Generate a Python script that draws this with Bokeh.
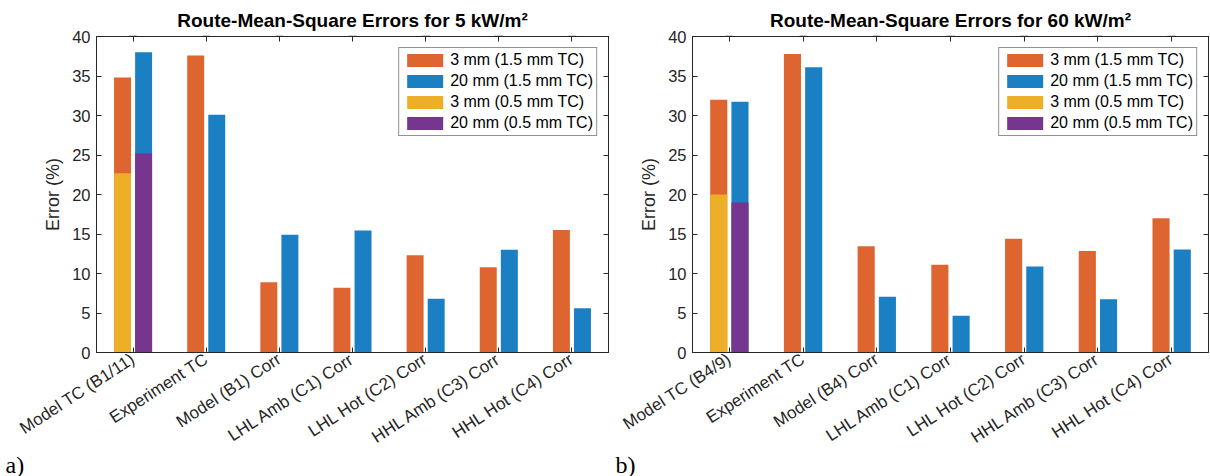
import math
from bokeh.plotting import figure
from bokeh.models import (FactorRange, Range1d, LinearAxis, CategoricalAxis,
                          FixedTicker, Title)
from bokeh.transform import dodge
from bokeh.layouts import row
from bokeh.embed import file_html
from bokeh.resources import INLINE

# ---------------- data ----------------
cats_a = ["Model TC (B1/11)", "Experiment TC", "Model (B1) Corr", "LHL Amb (C1) Corr",
          "LHL Hot (C2) Corr", "HHL Amb (C3) Corr", "HHL Hot (C4) Corr"]
mm3_15_a = [34.8, 37.6, 8.9, 8.2, 12.3, 10.8, 15.5]
mm20_15_a = [38.0, 30.1, 14.9, 15.45, 6.8, 13.0, 5.6]
mm3_05_a = [22.7]
mm20_05_a = [25.2]

cats_b = ["Model TC (B4/9)", "Experiment TC", "Model (B4) Corr", "LHL Amb (C1) Corr",
          "LHL Hot (C2) Corr", "HHL Amb (C3) Corr", "HHL Hot (C4) Corr"]
mm3_15_b = [32.0, 37.8, 13.45, 11.1, 14.4, 12.85, 17.0]
mm20_15_b = [31.75, 36.1, 7.05, 4.65, 10.9, 6.75, 13.05]
mm3_05_b = [20.0]
mm20_05_b = [19.0]

series_labels = ["3 mm (1.5 mm TC)", "20 mm (1.5 mm TC)", "3 mm (0.5 mm TC)", "20 mm (0.5 mm TC)"]
y_ticks = [0, 5, 10, 15, 20, 25, 30, 35, 40]
titles = ["Route-Mean-Square Errors for 5 kW/m\u00b2", "Route-Mean-Square Errors for 60 kW/m\u00b2"]
panel_tags = ["a)", "b)"]

colors = ["#DE6430", "#1B7FC3", "#EDAE28", "#76358F"]
AX = "#262626"
FONT = "Liberation Sans"


def make_plot(cats, s1, s2, s3, s4, title, tag, border_left, frame_w):
    p = figure(x_range=FactorRange(*cats), y_range=Range1d(0, 40),
               frame_width=frame_w, frame_height=316,
               min_border_left=border_left, min_border_right=2,
               min_border_top=36, min_border_bottom=124,
               output_backend="svg", toolbar_location=None)
    p.background_fill_color = "white"
    p.border_fill_color = "white"
    p.grid.visible = False
    p.outline_line_color = AX
    p.outline_line_alpha = 1.0

    off = 0.144
    w = 0.232
    p.vbar(x=dodge("x", -off, range=p.x_range), top="top", width=w,
           source=dict(x=cats, top=s1), fill_color=colors[0], line_color=None,
           legend_label=series_labels[0])
    p.vbar(x=dodge("x", off, range=p.x_range), top="top", width=w,
           source=dict(x=cats, top=s2), fill_color=colors[1], line_color=None,
           legend_label=series_labels[1])
    p.vbar(x=dodge("x", -off, range=p.x_range), top="top", width=w,
           source=dict(x=cats[:len(s3)], top=s3), fill_color=colors[2], line_color=None,
           legend_label=series_labels[2])
    p.vbar(x=dodge("x", off, range=p.x_range), top="top", width=w,
           source=dict(x=cats[:len(s4)], top=s4), fill_color=colors[3], line_color=None,
           legend_label=series_labels[3])

    # y axis
    ya = p.yaxis[0]
    ya.ticker = FixedTicker(ticks=y_ticks)
    ya.axis_label = "Error (%)"
    ya.axis_label_text_font = FONT
    ya.axis_label_text_font_size = "18px"
    ya.axis_label_text_font_style = "normal"
    ya.axis_label_text_color = AX
    ya.axis_label_standoff = 6
    ya.major_label_text_font = FONT
    ya.major_label_text_font_size = "16.5px"
    ya.major_label_text_color = AX
    ya.major_label_standoff = 6
    ya.major_tick_in = 5
    ya.major_tick_out = 0
    ya.minor_tick_in = 0
    ya.minor_tick_out = 0
    ya.axis_line_color = AX
    ya.major_tick_line_color = AX

    # x axis
    xa = p.xaxis[0]
    xa.major_label_orientation = math.radians(33)
    xa.major_label_text_font = FONT
    xa.major_label_text_font_size = "17px"
    xa.major_label_text_color = AX
    xa.major_label_standoff = 5
    xa.major_tick_in = 5
    xa.major_tick_out = 0
    xa.axis_line_color = AX
    xa.major_tick_line_color = AX

    # box axes (ticks only, labels blanked)
    ra = LinearAxis(ticker=FixedTicker(ticks=y_ticks),
                    major_label_overrides={t: "" for t in y_ticks},
                    major_label_text_font_size="1px",
                    major_label_standoff=0, major_tick_in=5, major_tick_out=0,
                    minor_tick_in=0, minor_tick_out=0, axis_line_color=AX,
                    major_tick_line_color=AX)
    p.add_layout(ra, "right")
    ta = CategoricalAxis(major_label_overrides={c: "" for c in cats},
                         major_label_text_font_size="1px", major_label_standoff=0,
                         major_tick_in=5, major_tick_out=0, axis_line_color=AX,
                         major_tick_line_color=AX)
    p.add_layout(ta, "above")

    # title
    p.add_layout(Title(text=title, align="center", text_font=FONT, text_font_size="19px",
                       text_font_style="bold", text_color="black", standoff=4), "above")

    # panel tag
    p.add_layout(Title(text=tag, align="left", offset=-(border_left - 5), text_font="Liberation Serif",
                       text_font_size="24px", text_font_style="normal", text_color="black",
                       standoff=-16), "below")

    # legend
    lg = p.legend[0]
    lg.location = "top_right"
    lg.margin = 11
    lg.padding = 3
    lg.spacing = 3
    lg.glyph_width = 45
    lg.glyph_height = 16
    lg.label_height = 16
    lg.label_standoff = 3
    lg.label_text_font = FONT
    lg.label_text_font_size = "16px"
    lg.label_text_color = "black"
    lg.border_line_color = AX
    lg.border_line_width = 1
    lg.background_fill_color = "white"
    lg.background_fill_alpha = 1.0
    return p


pa = make_plot(cats_a, mm3_15_a, mm20_15_a, mm3_05_a, mm20_05_a, titles[0], panel_tags[0], 96, 512)
pb = make_plot(cats_b, mm3_15_b, mm20_15_b, mm3_05_b, mm20_05_b, titles[1], panel_tags[1], 82, 516)

layout = row(pa, pb, spacing=0)
open("out.html", "w").write(file_html(layout, INLINE))
